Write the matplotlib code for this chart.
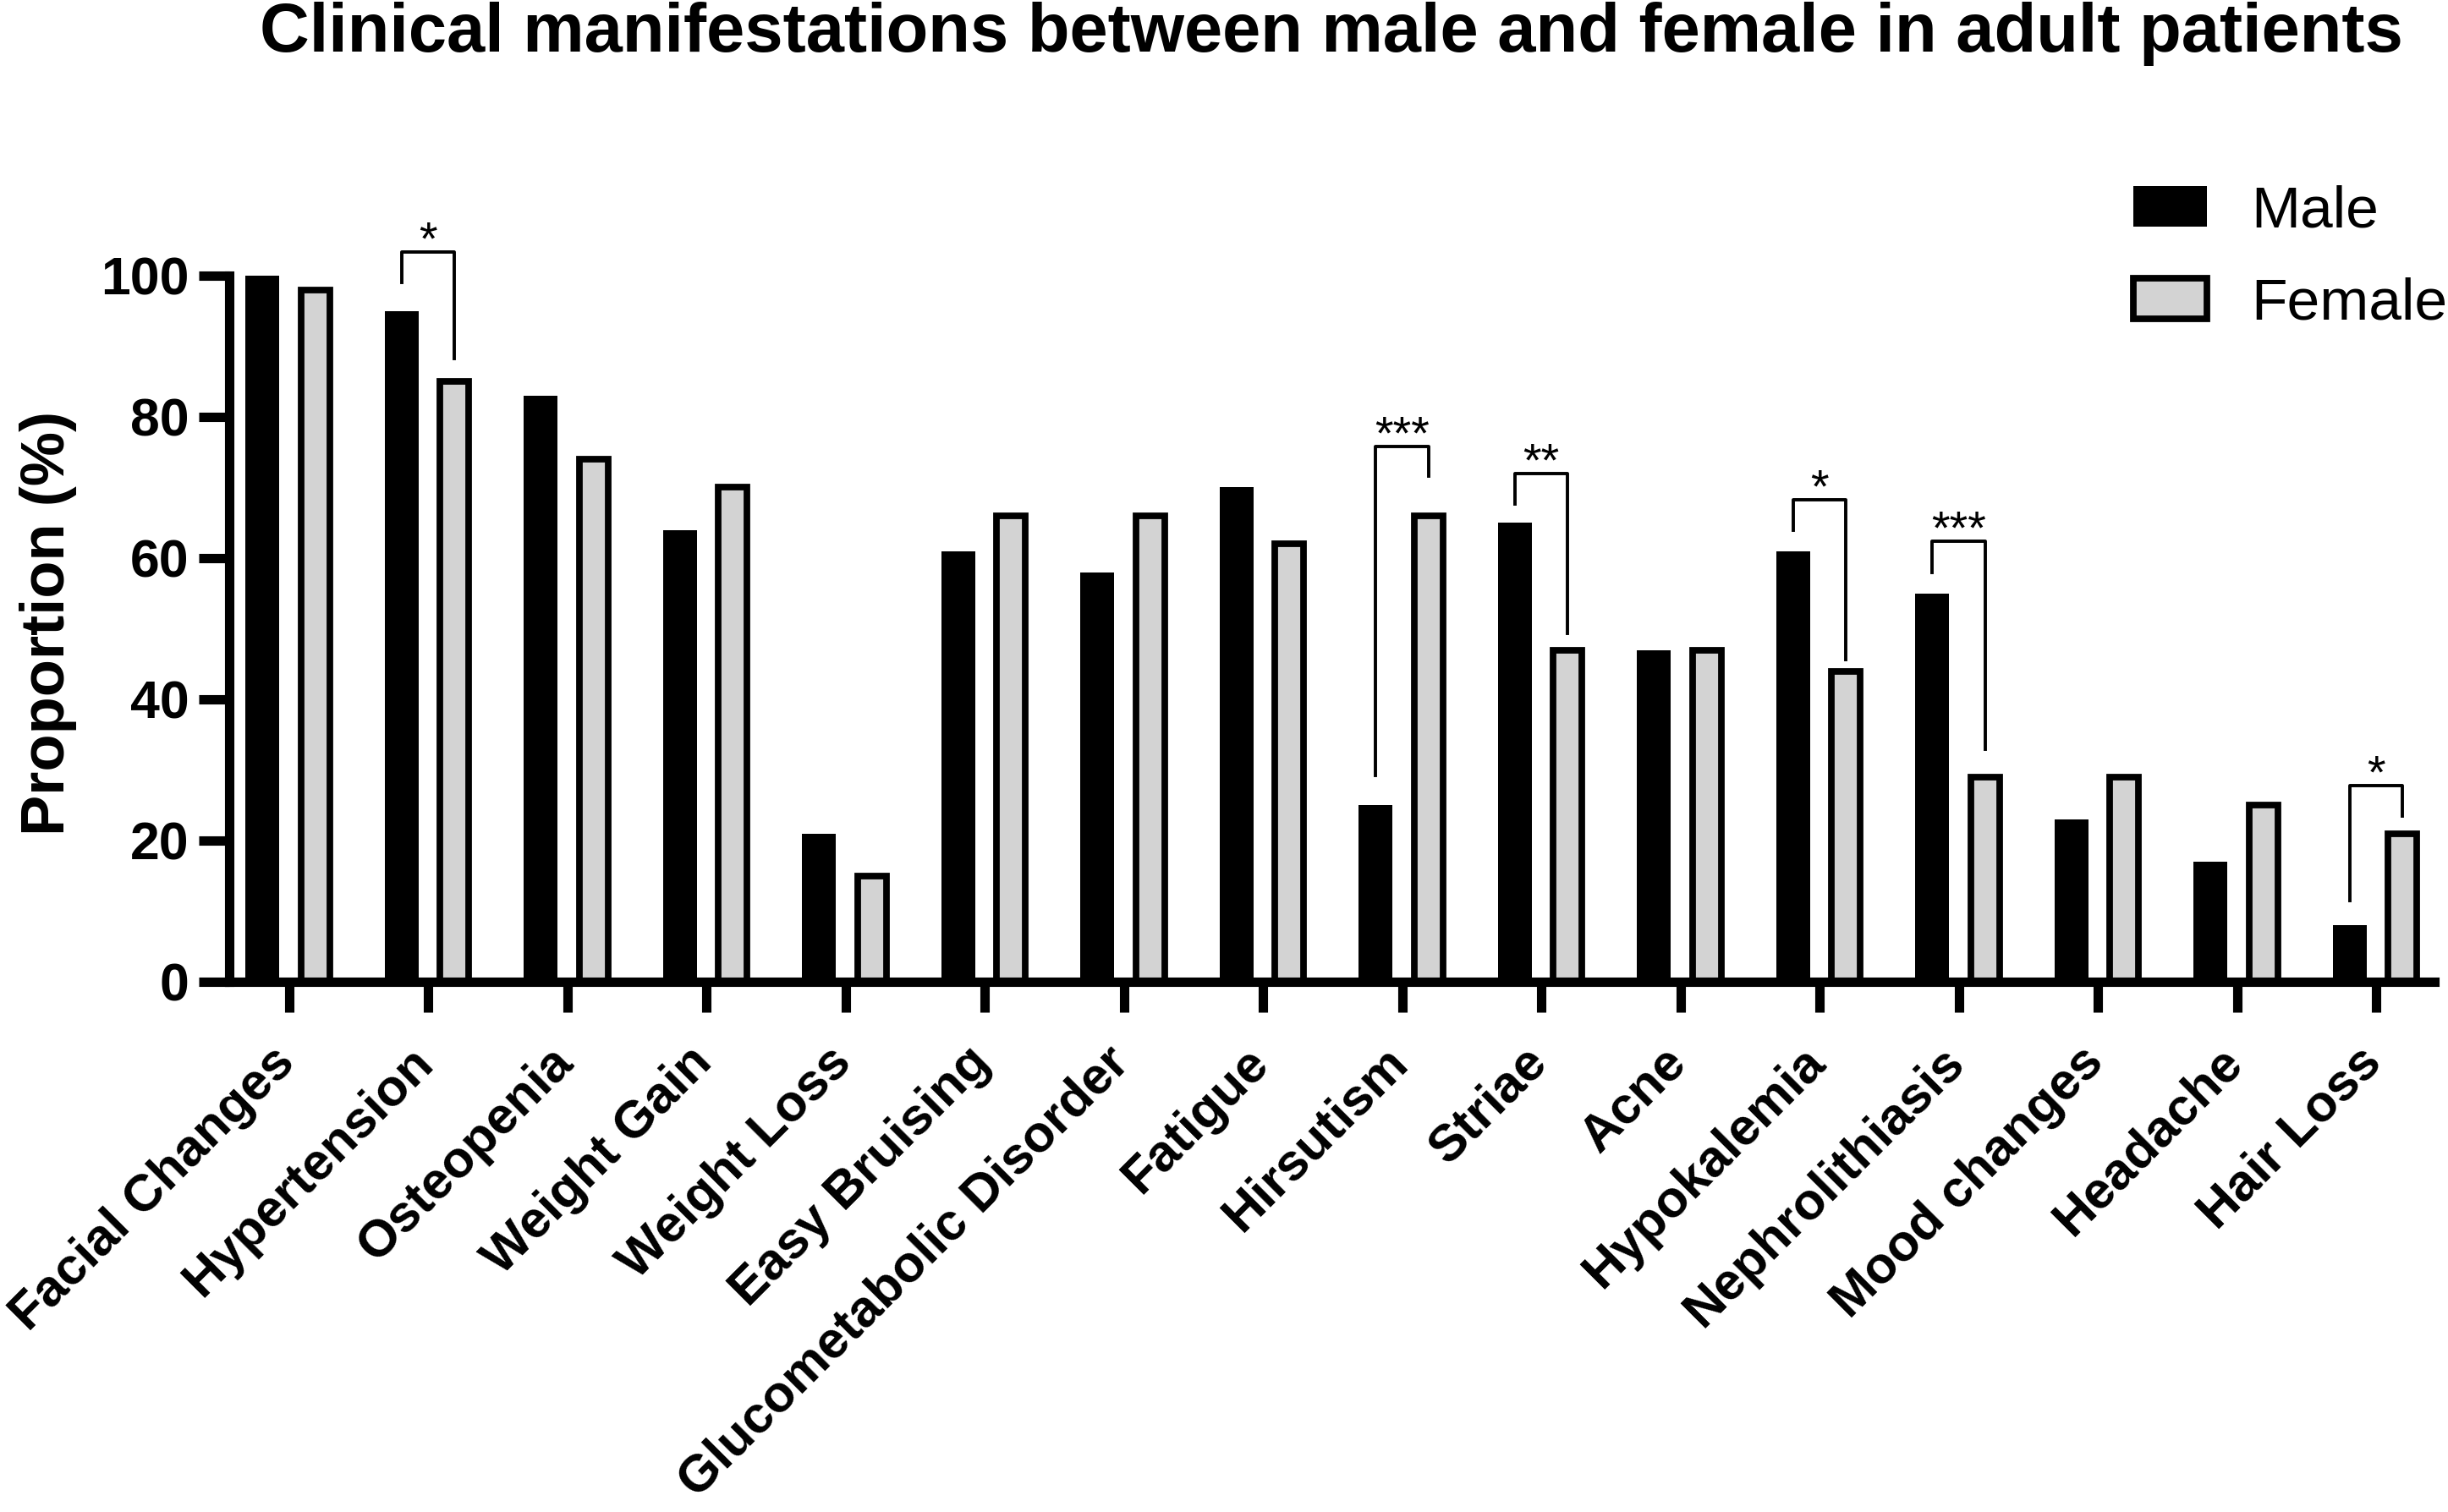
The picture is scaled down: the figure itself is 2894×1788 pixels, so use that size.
import matplotlib
matplotlib.use('Agg')
import matplotlib.pyplot as plt
import numpy as np

plt.rcParams['font.family'] = ['Liberation Sans', 'DejaVu Sans']

# data
categories = ['Facial Changes', 'Hypertension', 'Osteopenia', 'Weight Gain', 'Weight Loss',
              'Easy Bruising', 'Glucometabolic Disorder', 'Fatigue', 'Hirsutism', 'Striae',
              'Acne', 'Hypokalemia', 'Nephrolithiasis', 'Mood changes', 'Headache', 'Hair Loss']
male = [100, 95, 83, 64, 21, 61, 58, 70, 25, 65, 47, 61, 55, 23, 17, 8]
female = [98, 85, 74, 70, 15, 66, 66, 62, 66, 47, 47, 44, 29, 29, 25, 21]

# significance brackets (category index, stars, bracket height, left leg end, right leg end)
sig_idx = [1, 8, 9, 11, 12, 15]
sig_stars = ['*', '***', '**', '*', '***', '*']
sig_top = [103.4, 75.8, 72.0, 68.3, 62.4, 27.8]
sig_left = [99.0, 29.2, 67.7, 64.0, 58.0, 11.5]
sig_right = [88.3, 71.6, 49.3, 45.6, 32.9, 23.5]

fig = plt.figure(figsize=(14.47, 8.94), dpi=200)
ax = fig.add_axes([0.0936, 0.3507, 0.9009, 0.467])

x = np.arange(len(categories))
off = 0.19
ax.bar(x - off, male, width=0.243, color='black', label='Male', zorder=2)
ax.bar(x + off, female, width=0.207, color='#d3d3d3', edgecolor='black',
       linewidth=2.8, label='Female', zorder=2)

# brackets + stars
for i, s, top, yl, yr in zip(sig_idx, sig_stars, sig_top, sig_left, sig_right):
    xl, xr = i - off, i + off
    ax.plot([xl, xl, xr, xr], [yl, top, top, yr], color='black', lw=1.4,
            clip_on=False, zorder=3)
    ax.text(i, top - 0.3, s, ha='center', va='baseline', fontsize=20)

ax.set_xlim(-0.43, 15.42)
ax.set_ylim(0, 100)
ax.set_yticks([0, 20, 40, 60, 80, 100])
for lab in ax.get_yticklabels():
    lab.set_fontweight('bold')

# tick marks on the categories, labels (as minor ticks) a bit to the right like the original
ax.set_xticks(x, labels=[])
ax.set_xticks(x + 0.11, minor=True)
ax.set_xticklabels(categories, minor=True, rotation=45, ha='right', fontweight='bold')

for side in ['top', 'right']:
    ax.spines[side].set_visible(False)
for side in ['left', 'bottom']:
    ax.spines[side].set_linewidth(4)
    ax.spines[side].set_zorder(4)
ax.tick_params(axis='both', which='major', width=4, length=13)
ax.tick_params(axis='x', which='minor', length=0, pad=24, labelsize=22)
ax.tick_params(axis='y', pad=4, labelsize=22.5)

fig.text(0.0197, 0.588, 'Proportion (%)', rotation=90, ha='center', va='center',
         fontsize=26, fontweight='bold')
fig.text(0.544, 0.999, 'Clinical manifestations between male and female in adult patients',
         ha='center', va='top', fontsize=29.3, fontweight='bold')

fig.legend(loc='upper left', bbox_to_anchor=(0.8715, 0.878), frameon=False, fontsize=25,
           borderpad=0, handlelength=1.25, handleheight=0.7, handletextpad=0.75,
           labelspacing=0.65, borderaxespad=0)

fig.savefig('out.png', dpi=200)
